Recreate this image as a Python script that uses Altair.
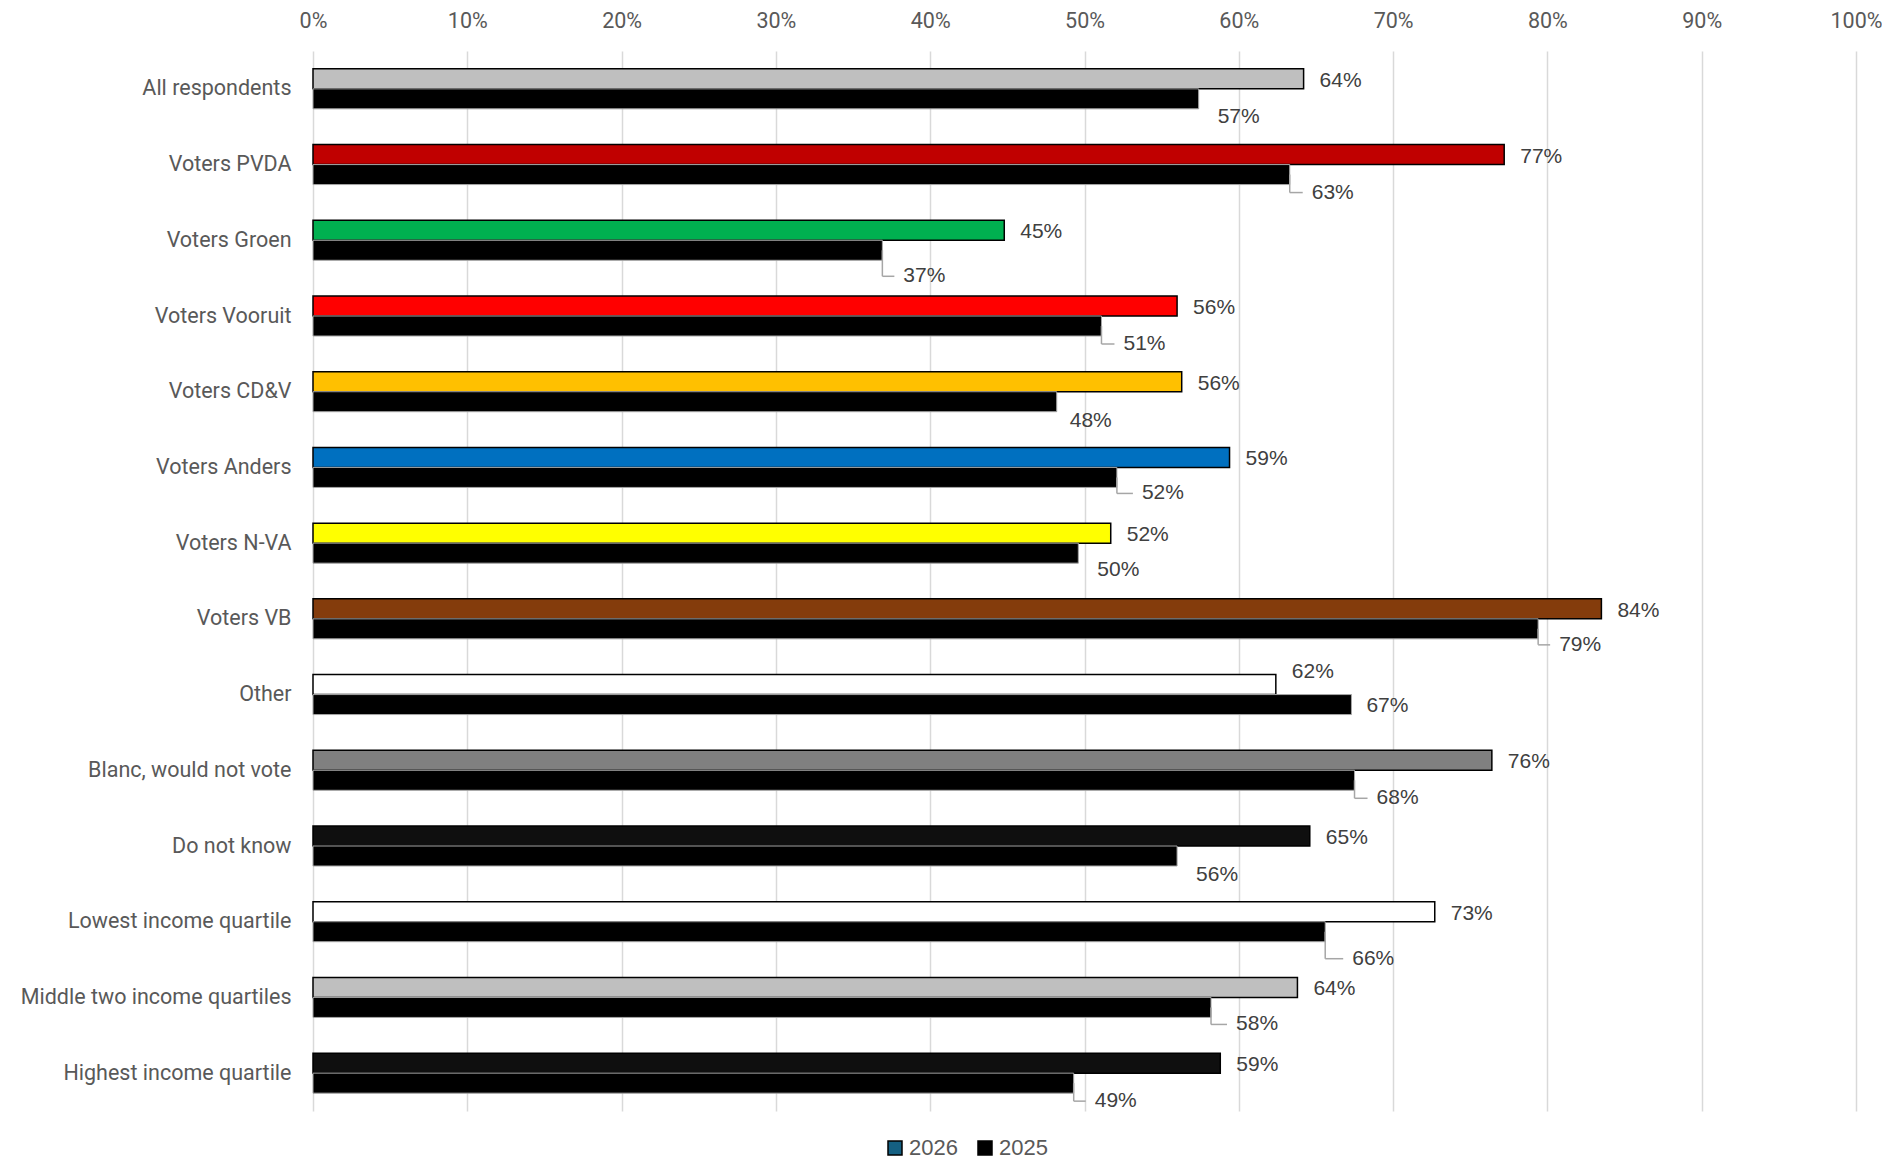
import json
import altair as alt
import pandas as pd

# ---------------- data ----------------
categories = [
    "All respondents", "Voters PVDA", "Voters Groen", "Voters Vooruit",
    "Voters CD&V", "Voters Anders", "Voters N-VA", "Voters VB", "Other",
    "Blanc, would not vote", "Do not know", "Lowest income quartile",
    "Middle two income quartiles", "Highest income quartile",
]
v2026 = [64.2, 77.2, 44.8, 56.0, 56.3, 59.4, 51.7, 83.5, 62.4, 76.4, 64.6, 72.7, 63.8, 58.8]
v2025 = [57.4, 63.3, 36.9, 51.1, 48.2, 52.1, 49.6, 79.4, 67.3, 67.5, 56.0, 65.6, 58.2, 49.3]
years = ["2026", "2025"]
x_ticks = [0, 10, 20, 30, 40, 50, 60, 70, 80, 90, 100]

# ---------------- styles ----------------
colors_2026 = ["#BFBFBF", "#C00000", "#00B050", "#FF0000", "#FFC000", "#0070C0",
               "#FFFF00", "#843C0C", "#FFFFFF", "#808080", "#0F0F0F", "#FFFFFF",
               "#BFBFBF", "#0F0F0F"]
legend_colors = ["#156082", "#000000"]
# manual label nudges (pixels), as placed in the original
dx26 = [16] * 14
dy26 = [2, 2, 2, 2, 2, 2, 2, 2, -13, 2, 2, 2, 2, 2]
dx25 = [19, 22, 21, 22, 13, 25, 19, 21, 15, 22, 19, 27, 25, 21]
dy25 = [18, 18, 26, 18, 19, 16, 17, 16, 1, 18, 19, 27, 17, 18]
leader25 = [0, 1, 1, 1, 0, 1, 0, 1, 0, 1, 0, 1, 1, 1]

W, H = 1543, 1060
PX_X = W / 100.0
PX_Y = H / len(categories)
BAR = 20.0 / PX_Y

bars26, bars25, labels, leaders = [], [], [], []
for i, c in enumerate(categories):
    a, b = v2026[i], v2025[i]
    bars26.append(dict(cat=c, start=0, value=a, y0=i - BAR, y1=i, fill=colors_2026[i], year="2026"))
    bars25.append(dict(cat=c, start=0, value=b, y0=i, y1=i + BAR, year="2025"))
    labels.append(dict(label=f"{int(a + 0.5)}%", lx=a + dx26[i] / PX_X, ly=i - BAR / 2 + dy26[i] / PX_Y))
    lx = b + dx25[i] / PX_X
    ly = i + BAR / 2 + dy25[i] / PX_Y
    labels.append(dict(label=f"{int(b + 0.5)}%", lx=lx, ly=ly))
    if leader25[i]:
        leaders.append(dict(ax=b, bx=b, ay=i + BAR / 2, by=ly))
        leaders.append(dict(ax=b, bx=lx - 9 / PX_X, ay=ly, by=ly))

df26 = pd.DataFrame(bars26)
df25 = pd.DataFrame(bars25)
dfl = pd.DataFrame(labels)
dfr = pd.DataFrame(leaders)

xscale = alt.Scale(domain=[0, 100], nice=False, zero=True)
yscale = alt.Scale(domain=[-0.5, len(categories) - 0.5], reverse=True, nice=False, zero=False)

x_axis = alt.Axis(
    orient="top", values=x_ticks, labelExpr="datum.value + '%'", grid=True,
    gridColor="#D9D9D9", gridWidth=1.5, domain=False, ticks=False, tickSize=0,
    labelFont="Roboto", labelFontSize=21.5, labelColor="#595959", labelPadding=19,
    labelFlush=False, labelAlign="center", labelBound=False, title=None,
)
y_axis = alt.Axis(
    values=list(range(len(categories))),
    labelExpr=json.dumps(categories) + "[datum.value]",
    grid=False, domain=False, ticks=False, tickSize=0, labelPadding=22,
    labelFont="Roboto", labelFontSize=21.5, labelColor="#595959", labelLimit=400,
    title=None,
)

layer26 = alt.Chart(df26).mark_rect(stroke="#000000", strokeWidth=1.5).encode(
    x=alt.X("start:Q", scale=xscale, axis=x_axis),
    x2="value:Q",
    y=alt.Y("y0:Q", scale=yscale, axis=y_axis),
    y2="y1:Q",
    fill=alt.Fill("fill:N", scale=None),
)

layer25 = alt.Chart(df25).mark_rect(stroke="#A6A6A6", strokeWidth=1).encode(
    x=alt.X("start:Q", scale=xscale),
    x2="value:Q",
    y=alt.Y("y0:Q", scale=yscale),
    y2="y1:Q",
    color=alt.Color(
        "year:N",
        scale=alt.Scale(domain=years, range=legend_colors),
        legend=alt.Legend(
            title=None, orient="none", legendX=571, legendY=1086, direction="horizontal",
            symbolType="square", symbolSize=196, symbolStrokeColor="#000000",
            symbolStrokeWidth=1.5, labelFont="Liberation Sans", labelFontSize=22,
            labelColor="#595959", labelOffset=3, columnPadding=16,
        ),
    ),
)

rules = alt.Chart(dfr).mark_rule(color="#A6A6A6", strokeWidth=1.5).encode(
    x=alt.X("ax:Q", scale=xscale),
    x2="bx:Q",
    y=alt.Y("ay:Q", scale=yscale),
    y2="by:Q",
)

texts = alt.Chart(dfl).mark_text(
    align="left", baseline="middle", font="Liberation Sans", fontSize=21, color="#404040"
).encode(
    x=alt.X("lx:Q", scale=xscale),
    y=alt.Y("ly:Q", scale=yscale),
    text="label:N",
)

chart = alt.layer(layer26, layer25, rules, texts).properties(
    width=W, height=H,
    padding={"left": 305, "top": 43, "right": 26, "bottom": 50},
    autosize=alt.AutoSizeParams(type="none"),
    background="#FFFFFF",
).configure_view(stroke=None)

chart.save("out.html", embed_options={"renderer": "svg", "actions": False})
